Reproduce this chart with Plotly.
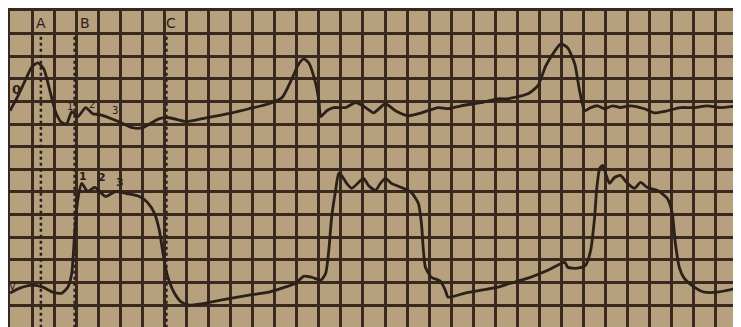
import plotly.graph_objects as go

# Upper tracing (time in grid divisions, amplitude in grid divisions)
upper_t = [0.00, 0.32, 0.68, 0.99, 1.26, 1.53, 1.81, 2.08, 2.35, 2.57, 2.80, 3.07, 3.43, 3.75, 4.06,
           4.83, 5.55, 6.00, 6.77, 7.22, 7.99, 8.89, 10.07, 10.84, 11.74, 12.33, 12.78, 13.09, 13.32,
           13.54, 13.86, 14.00, 14.09, 14.36, 14.67, 15.21, 15.67, 16.12, 16.48, 17.02, 17.47, 18.06,
           18.65, 19.41, 19.86, 20.45, 21.35, 22.12, 22.57, 23.48, 23.93, 24.29, 24.70, 24.97, 25.28,
           25.60, 25.82, 26.05, 26.32, 26.64, 26.95, 27.31, 27.67, 28.13, 28.76, 29.21, 29.80, 30.38,
           31.02, 31.60, 32.19, 33.00]
upper_v = [9.59, 10.17, 10.91, 11.53, 11.71, 11.44, 10.47, 9.50, 9.06, 9.02, 9.55, 9.33, 9.73, 9.46, 9.42,
           9.15, 8.84, 8.84, 9.24, 9.28, 9.11, 9.28, 9.50, 9.68, 9.90, 10.17, 11.01, 11.66, 11.88,
           11.71, 10.78, 10.03, 9.33, 9.59, 9.73, 9.73, 9.95, 9.73, 9.50, 9.90, 9.59, 9.37,
           9.50, 9.73, 9.68, 9.81, 9.95, 10.12, 10.12, 10.34, 10.70, 11.58, 12.24, 12.55, 12.37,
           11.66, 10.47, 9.59, 9.73, 9.81, 9.68, 9.81, 9.73, 9.81, 9.68, 9.50, 9.59, 9.73,
           9.73, 9.81, 9.73, 9.81]

# Lower tracing
lower_t = [0.00, 0.45, 1.04, 1.49, 1.94, 2.35, 2.62, 2.80, 2.93, 3.07, 3.25, 3.52, 3.84, 4.33, 4.79,
           5.28, 5.87, 6.23, 6.55, 6.77, 6.95, 7.13, 7.45, 7.77, 8.13, 8.89, 9.80, 10.84, 11.74,
           12.33, 12.96, 13.32, 13.68, 14.09, 14.31, 14.45, 14.58, 14.76, 14.90, 15.03, 15.26, 15.49,
           15.80, 16.03, 16.25, 16.57, 16.79, 17.02, 17.29, 17.74, 18.19, 18.51, 18.65, 18.74, 18.83,
           19.10, 19.50, 19.73, 19.86, 20.63, 21.35, 22.12, 22.57, 23.48, 24.38, 25.15, 25.28, 25.73,
           26.09, 26.32, 26.50, 26.59, 26.73, 26.86, 27.00, 27.18, 27.40, 27.67, 27.99, 28.31, 28.58,
           28.89, 29.35, 29.80, 30.02, 30.16, 30.34, 30.56, 31.02, 31.47, 32.05, 33.00]
lower_v = [1.53, 1.75, 1.88, 1.79, 1.57, 1.53, 1.79, 2.41, 4.17, 5.63, 6.38, 6.02, 6.20, 5.80, 6.02,
           5.93, 5.80, 5.54, 5.05, 4.30, 3.20, 2.32, 1.53, 1.13, 1.00, 1.09, 1.26, 1.44, 1.57,
           1.75, 1.97, 2.28, 2.23, 2.10, 2.41, 3.42, 4.88, 6.07, 6.82, 6.73, 6.38, 6.16,
           6.42, 6.60, 6.29, 6.07, 6.38, 6.60, 6.38, 6.20, 5.98, 5.50, 4.61, 3.42, 2.67,
           2.23, 2.06, 1.66, 1.35, 1.53, 1.66, 1.79, 1.93, 2.19, 2.54, 2.89, 2.67, 2.63,
           2.76, 3.42, 4.88, 6.07, 7.04, 7.17, 6.82, 6.38, 6.64, 6.73, 6.38, 6.16, 6.42,
           6.20, 6.07, 5.71, 5.05, 3.73, 2.67, 2.19, 1.79, 1.57, 1.57, 1.75]

# Marker lines A, B, C and their labels
marker_names = ["A", "B", "C"]
marker_t = [1.40, 2.93, 7.09]
marker_label_t = [1.42, 3.39, 7.31]
marker_top = 12.95

# Wave labels
upper_wave_labels = ["1", "2", "3"]
upper_wave_t = [2.71, 3.70, 4.74]
upper_wave_v = [9.80, 9.88, 9.62]
lower_wave_labels = ["1", "2", "3"]
lower_wave_t = [3.30, 4.15, 4.97]
lower_wave_v = [6.70, 6.65, 6.43]

ink = "#2b2119"
grid = "#3a291e"

fig = go.Figure()

for t in marker_t:
    fig.add_trace(go.Scatter(x=[t, t], y=[0, marker_top], mode="lines",
                             line=dict(color=ink, width=2.5, dash="dot"), hoverinfo="skip"))
for name, t in zip(marker_names, marker_label_t):
    fig.add_annotation(x=t, y=13.47, text=name, showarrow=False,
                       font=dict(family="DejaVu Sans", size=14, color=ink))

fig.add_trace(go.Scatter(x=upper_t, y=upper_v, mode="lines",
                         line=dict(color=ink, width=2.8, shape="spline", smoothing=0.6)))
fig.add_trace(go.Scatter(x=lower_t, y=lower_v, mode="lines",
                         line=dict(color=ink, width=2.8, shape="spline", smoothing=0.6)))

for lab, t, v in zip(upper_wave_labels, upper_wave_t, upper_wave_v):
    fig.add_annotation(x=t, y=v, text=lab, showarrow=False,
                       font=dict(family="DejaVu Sans", size=10, color=ink))
for lab, t, v in zip(lower_wave_labels, lower_wave_t, lower_wave_v):
    fig.add_annotation(x=t, y=v, text="<b>" + lab + "</b>", showarrow=False,
                       font=dict(family="DejaVu Sans", size=11, color=ink))

fig.add_annotation(x=0.30, y=10.52, text="<b>0</b>", showarrow=False,
                   font=dict(family="DejaVu Sans", size=13, color=ink))
fig.add_annotation(x=0.12, y=1.80, text="V", showarrow=False,
                   font=dict(family="DejaVu Sans", size=10, color=ink))

fig.update_layout(
    width=733, height=319,
    margin=dict(l=2, r=0, t=2, b=0),
    paper_bgcolor="#c8b794",
    plot_bgcolor="#b6a07d",
    showlegend=False,
)
fig.update_xaxes(range=[0, 33.0], dtick=1, tick0=0, showgrid=True, gridcolor=grid, gridwidth=2.5,
                 zeroline=False, showticklabels=False, ticks="", showline=True, mirror=True,
                 linecolor=grid, linewidth=2.5)
fig.update_yaxes(range=[0.03, 14.0], dtick=1, tick0=0, showgrid=True, gridcolor=grid, gridwidth=2.5,
                 zeroline=False, showticklabels=False, ticks="", showline=True, mirror=True,
                 linecolor=grid, linewidth=2.5)

fig.write_html("out.html")
